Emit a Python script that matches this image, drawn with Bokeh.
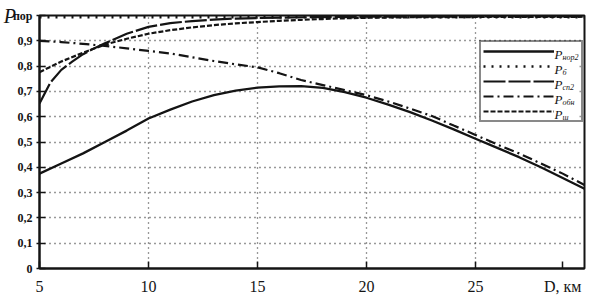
from bokeh.plotting import figure
from bokeh.models import Legend, LegendItem, Label, FixedTicker, BoxAnnotation
from bokeh.embed import file_html
from bokeh.resources import INLINE

# ---- data ----
x_nor2 = [5, 6, 7, 8, 9, 10, 11, 12, 13, 14, 15, 16, 17, 18, 19, 20, 21, 22, 23, 24, 25, 26, 27, 28, 29, 30]
p_nor2 = [0.375, 0.415, 0.455, 0.50, 0.545, 0.593, 0.628, 0.66, 0.685, 0.703, 0.715, 0.72, 0.721, 0.714, 0.697, 0.675,
          0.648, 0.618, 0.585, 0.55, 0.513, 0.477, 0.44, 0.40, 0.358, 0.315]

x_b = [5, 30]
p_b = [0.993, 0.993]

x_sp2 = [5, 5.5, 6, 6.5, 7, 7.5, 8, 9, 10, 11, 12, 13, 14, 15, 17, 20, 25, 30]
p_sp2 = [0.652, 0.735, 0.785, 0.818, 0.847, 0.87, 0.89, 0.928, 0.955, 0.97, 0.978, 0.984, 0.988, 0.99, 0.993, 0.995,
         0.996, 0.996]

x_obn = [5, 6, 7, 8, 9, 10, 11, 12, 13, 14, 15, 16, 17, 18, 19, 20, 21, 22, 23, 24, 25, 26, 27, 28, 29, 30]
p_obn = [0.90, 0.895, 0.888, 0.88, 0.87, 0.86, 0.85, 0.835, 0.82, 0.807, 0.795, 0.772, 0.745, 0.725, 0.705, 0.685,
         0.66, 0.632, 0.603, 0.565, 0.528, 0.49, 0.455, 0.415, 0.375, 0.33]

x_sh = [5, 6, 7, 8, 9, 10, 11, 12, 13, 14, 15, 16, 17, 18, 19, 20, 22, 25, 30]
p_sh = [0.776, 0.818, 0.853, 0.885, 0.908, 0.928, 0.942, 0.953, 0.962, 0.969, 0.974, 0.979, 0.983, 0.986, 0.989,
        0.991, 0.993, 0.994, 0.995]

x_ticks = [5, 10, 15, 20, 25, 29]
x_tick_labels = ["5", "10", "15", "20", "25", "D, км"]
y_ticks = [0, 0.1, 0.2, 0.3, 0.4, 0.5, 0.6, 0.7, 0.8, 0.9, 1.0]
y_tick_labels = ["0", "0,1", "0,2", "0,3", "0,4", "0,5", "0,6", "0,7", "0,8", "0,9", "пор"]
legend_subs = ["нор2", "б", "сп2", "обн", "ш"]
y_title = "P"

SERIF = "Liberation Serif"
INK = "#141414"

p = figure(width=589, height=298, x_range=(5, 30), y_range=(0, 1),
           output_backend="svg", toolbar_location=None,
           min_border_left=36, min_border_right=5, min_border_top=15, min_border_bottom=30)
p.background_fill_color = "white"
p.border_fill_color = "white"
p.outline_line_color = INK
p.outline_line_width = 2

# axes
p.xaxis.ticker = FixedTicker(ticks=x_ticks)
p.xaxis.major_label_overrides = {t: l for t, l in zip(x_ticks, x_tick_labels)}
p.yaxis.ticker = FixedTicker(ticks=y_ticks)
p.yaxis.major_label_overrides = {t: l for t, l in zip(y_ticks, y_tick_labels)}
for ax in (p.xaxis[0], p.yaxis[0]):
    ax.axis_line_color = INK
    ax.axis_line_width = 2
    ax.major_tick_line_color = INK
    ax.major_tick_line_width = 1.5
    ax.minor_tick_line_color = None
    ax.major_label_text_font = SERIF
    ax.major_label_text_color = INK
    ax.axis_label_text_font = SERIF
    ax.axis_label_text_color = INK
p.xaxis.major_tick_in = 7
p.xaxis.major_tick_out = 0
p.xaxis.major_label_standoff = 9
p.xaxis.major_label_text_font_size = "16px"
p.yaxis.major_tick_in = 6
p.yaxis.major_tick_out = 3
p.yaxis.major_label_standoff = 4
p.yaxis.major_label_text_font_size = "12px"
p.yaxis.major_label_text_font_style = "bold"

p.yaxis.axis_label = y_title
p.yaxis.axis_label_text_font_size = "20px"
p.yaxis.axis_label_text_font_style = "italic"
p.yaxis.axis_label_orientation = "horizontal"
p.yaxis.axis_label_standoff = -6
try:
    p.yaxis.axis_label_align = "end"
except Exception as e:
    print("align err", e)

# grid
p.xgrid.ticker = FixedTicker(ticks=[10, 15, 20, 25])
p.ygrid.ticker = FixedTicker(ticks=y_ticks[1:10])
for g in (p.xgrid[0], p.ygrid[0]):
    g.grid_line_color = "#333333"
    g.grid_line_dash = "1 4"
    g.grid_line_width = 1.3

# curves
r1 = p.line(x_nor2, p_nor2, line_color=INK, line_width=2.3)
r2 = p.line(x_b, p_b, line_color=INK, line_width=2.5, line_dash="2 6")
r3 = p.line(x_sp2, p_sp2, line_color=INK, line_width=2.2, line_dash="22 3")
r4 = p.line(x_obn, p_obn, line_color=INK, line_width=2.2, line_dash="10 4 2 4")
r5 = p.line(x_sh, p_sh, line_color=INK, line_width=2.2, line_dash="5 2")

LEG_X, LEG_Y, PAD, GW, GH, SP, LW, STD = 440, 146, 2, 71, 14, 1, 23, 2
leg_h = 2 * PAD + 5 * GH + 4 * SP
leg_w = 2 * PAD + GW + STD + LW

# white panel under the (transparent) legend, with P + subscript texts on it
p.add_layout(BoxAnnotation(left=LEG_X, right=LEG_X + leg_w, bottom=LEG_Y, top=LEG_Y + leg_h,
                           left_units="screen", right_units="screen", bottom_units="screen", top_units="screen",
                           fill_color="white", fill_alpha=1, line_color=None, level="annotation"))
for i, s in enumerate(legend_subs):
    cy = LEG_Y + leg_h - PAD - i * (GH + SP) - GH / 2
    lx = LEG_X + PAD + GW + STD
    p.add_layout(Label(x=lx, y=cy - 0.5, x_units="screen", y_units="screen", text="P",
                       text_font=SERIF, text_font_style="italic", text_font_size="13px",
                       text_color=INK, text_baseline="middle"))
    p.add_layout(Label(x=lx + 8, y=cy - 4, x_units="screen", y_units="screen", text=s,
                       text_font=SERIF, text_font_style="italic", text_font_size="8px",
                       text_color=INK, text_baseline="middle"))

legend = Legend(items=[LegendItem(label=" ", renderers=[r]) for r in (r1, r2, r3, r4, r5)],
                location=(LEG_X, LEG_Y))
legend.margin = 0
legend.padding = PAD
legend.spacing = SP
legend.glyph_width = GW
legend.glyph_height = GH
legend.label_height = GH
legend.label_width = LW
legend.label_standoff = STD
legend.label_text_font_size = "1px"
legend.border_line_color = INK
legend.border_line_width = 2.5
legend.background_fill_alpha = 0
p.add_layout(legend)

open("out.html", "w").write(file_html(p, INLINE))
